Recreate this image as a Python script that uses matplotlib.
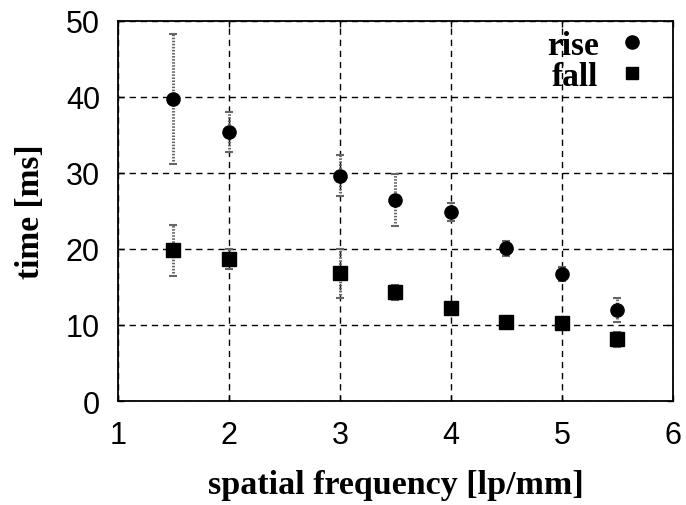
import numpy as np
import matplotlib.pyplot as plt
from matplotlib.lines import Line2D

freq = [1.5, 2.0, 3.0, 3.5, 4.0, 4.5, 5.0, 5.5]
rise = [39.7, 35.4, 29.6, 26.4, 24.9, 20.1, 16.7, 12.0]
rise_err = [8.6, 2.6, 2.7, 3.4, 1.2, 1.0, 0.9, 1.6]
fall = [19.8, 18.7, 16.8, 14.3, 12.2, 10.4, 10.3, 8.1]
fall_err = [3.3, 1.3, 3.2, 1.0, 0.5, 0.3, 0.3, 1.0]

serif = ['Liberation Serif', 'DejaVu Serif']
sans = ['Liberation Sans', 'DejaVu Sans']

fig = plt.figure(figsize=(6.86, 5.06), dpi=100)
ax = fig.add_axes([0.172, 0.2055, 0.809, 0.7515])

for ys, es, m in [(rise, rise_err, 'o'), (fall, fall_err, 's')]:
    _, caps, bars = ax.errorbar(freq, ys, yerr=es, fmt='none', ecolor='#666666',
                                elinewidth=2.2, capsize=3, capthick=1.5, zorder=2)
    for b in bars:
        b.set_linestyle((0, (0.5, 0.5)))
    ax.plot(freq, ys, linestyle='none', marker=m, color='black',
            markersize=9.5, zorder=3)

ax.set_xlim(1, 6)
ax.set_ylim(0, 50)
ax.set_xticks([1, 2, 3, 4, 5, 6])
ax.set_yticks([0, 10, 20, 30, 40, 50])
ax.grid(True, color='black', linestyle=(0, (4.5, 3.5)), linewidth=1)
ax.set_axisbelow(True)
ax.tick_params(direction='in', length=4, width=1, top=True, right=True,
               labelsize=22)
ax.tick_params(axis='x', pad=14)
ax.tick_params(axis='y', pad=13)
for lab in ax.get_xticklabels() + ax.get_yticklabels():
    lab.set_family(sans)
for s in ax.spines.values():
    s.set_linewidth(1.3)

ax.set_xlabel('spatial frequency [lp/mm]', fontsize=24.5, fontweight='bold',
              family=serif, labelpad=13)
ax.set_ylabel('time [ms]', fontsize=24, fontweight='bold', family=serif,
              labelpad=14)

handles = [Line2D([], [], linestyle='none', marker='o', color='black', markersize=9.5),
           Line2D([], [], linestyle='none', marker='s', color='black', markersize=9)]
leg = ax.legend(handles, ['rise', 'fall'], loc='upper right', frameon=False,
                markerfirst=False, handlelength=1, handletextpad=0.5,
                labelspacing=0, borderaxespad=0, borderpad=0,
                bbox_to_anchor=(0.956, 0.977),
                prop={'family': serif, 'weight': 'bold', 'size': 24})

fig.savefig('out.png', dpi=100)
